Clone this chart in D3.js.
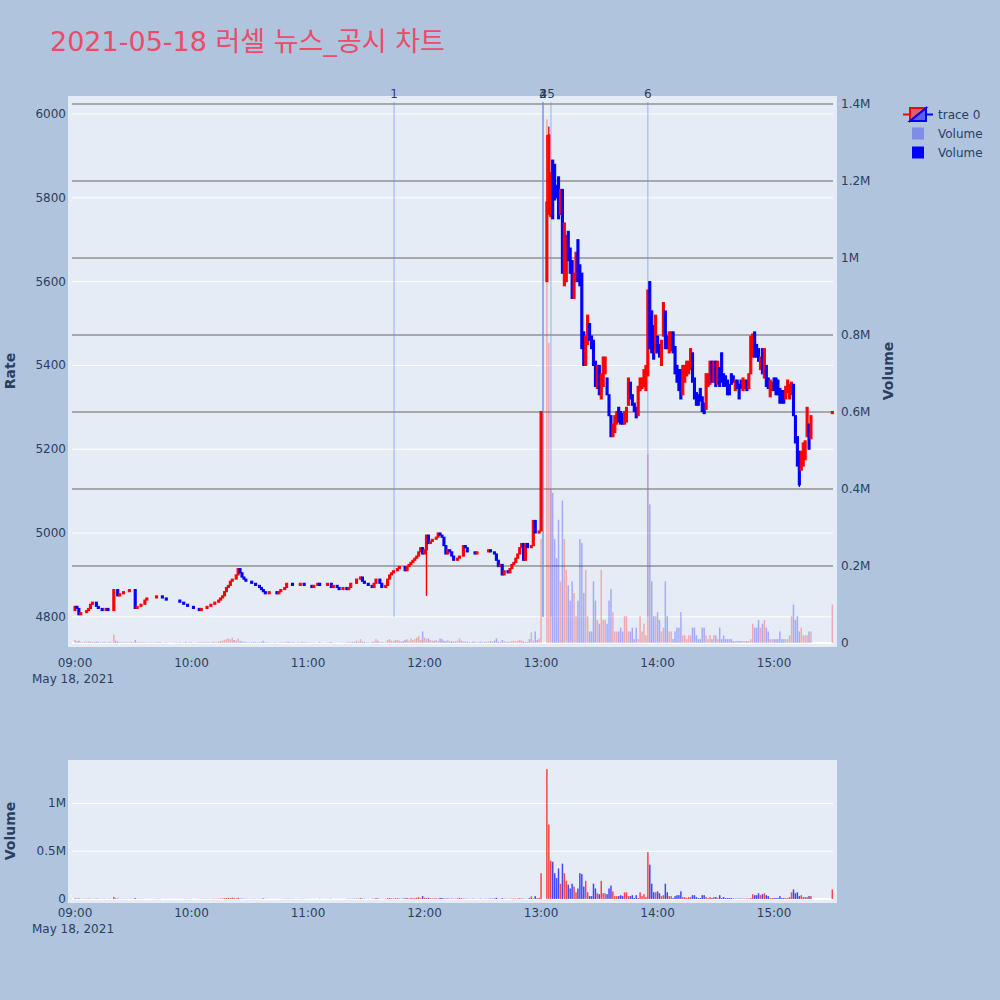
<!DOCTYPE html>
<html>
<head>
<meta charset="utf-8">
<script src="https://cdn.jsdelivr.net/npm/d3@7"></script>
<style>
  body { margin: 0; background: #b0c4de; }
  svg text { font-family: "DejaVu Sans", "Noto Sans CJK KR", sans-serif; fill: #2a3f5f; }
</style>
</head>
<body>
<svg id="chart" width="1000" height="1000"></svg>
<script>
// ============ 데이터 ============
// 09:00 ~ 13:00 분봉 종가 (분 0 = 09:00)
const amStartOpen = 4815;
const amClose = [
  4825, 4820, 4805, 4810, 4810, 4810, 4815, 4820, 4830, 4835,
  4835, 4825, 4820, 4820, 4815, 4815, 4820, 4815, 4815, 4815,
  4865, 4865, 4850, 4855, 4855, 4860, 4860, 4860, 4865, 4865,
  4865, 4820, 4825, 4825, 4830, 4830, 4840, 4845, 4845, 4845,
  4845, 4845, 4850, 4850, 4850, 4845, 4845, 4840, 4840, 4840,
  4840, 4840, 4840, 4840, 4835, 4835, 4830, 4830, 4825, 4825,
  4825, 4820, 4820, 4820, 4815, 4820, 4820, 4820, 4825, 4825,
  4830, 4830, 4835, 4835, 4840, 4845, 4850, 4860, 4870, 4875,
  4885, 4890, 4890, 4900, 4915, 4905, 4895, 4890, 4885, 4885,
  4885, 4880, 4880, 4875, 4875, 4870, 4865, 4860, 4855, 4855,
  4860, 4860, 4860, 4860, 4855, 4860, 4865, 4865, 4870, 4880,
  4880, 4880, 4875, 4875, 4875, 4875, 4880, 4880, 4875, 4875,
  4875, 4875, 4870, 4875, 4875, 4880, 4875, 4875, 4875, 4875,
  4880, 4880, 4870, 4875, 4875, 4870, 4865, 4865, 4870, 4870,
  4865, 4870, 4880, 4880, 4880, 4890, 4890, 4895, 4885, 4880,
  4880, 4875, 4875, 4870, 4880, 4890, 4890, 4880, 4870, 4870,
  4875, 4890, 4900, 4905, 4910, 4910, 4915, 4920, 4920, 4920,
  4910, 4920, 4925, 4930, 4935, 4940, 4945, 4955, 4965, 4950,
  4960, 4995, 4975, 4980, 4985, 4985, 4990, 5000, 4995, 4990,
  4970, 4950, 4960, 4955, 4945, 4935, 4935, 4940, 4945, 4945,
  4970, 4965, 4955, 4955, 4955, 4955, 4950, 4955, 4955, 4955,
  4955, 4955, 4955, 4960, 4955, 4955, 4950, 4935, 4920, 4925,
  4900, 4910, 4910, 4905, 4915, 4925, 4930, 4940, 4950, 4965,
  4975, 4935, 4975, 4965, 4965, 4970, 5030, 5000, 5000, 5005,
  5290
];
// 오전 거래량 (천 주)
const amVolumeK = [
  8, 4, 6, 3, 2, 3, 4, 5, 4, 3,
  3, 4, 3, 2, 2, 3, 2, 2, 3, 2,
  22, 6, 4, 3, 2, 3, 2, 2, 3, 3,
  2, 8, 3, 2, 3, 2, 2, 2, 1, 2,
  1, 2, 2, 3, 2, 1, 1, 2, 1, 1,
  1, 1, 2, 1, 2, 1, 1, 3, 1, 2,
  2, 1, 1, 2, 2, 3, 2, 2, 3, 2,
  2, 3, 3, 2, 4, 5, 6, 8, 10, 12,
  9, 14, 8, 6, 12, 5, 4, 3, 3, 2,
  2, 2, 3, 2, 2, 2, 3, 6, 2, 2,
  2, 1, 1, 2, 1, 2, 2, 2, 2, 4,
  3, 2, 2, 2, 1, 2, 2, 3, 2, 2,
  1, 2, 1, 2, 1, 1, 3, 1, 1, 1,
  2, 2, 3, 1, 1, 1, 1, 1, 2, 1,
  2, 4, 3, 3, 3, 6, 3, 10, 4, 3,
  2, 2, 1, 3, 4, 10, 6, 2, 3, 2,
  3, 8, 10, 6, 5, 7, 8, 6, 4, 5,
  8, 10, 6, 12, 8, 10, 14, 18, 8, 30,
  14, 10, 12, 8, 6, 6, 8, 5, 12, 10,
  6, 5, 8, 4, 5, 3, 4, 6, 12, 6,
  4, 4, 3, 3, 2, 4, 3, 2, 3, 4,
  2, 3, 3, 4, 5, 3, 6, 12, 4, 3,
  8, 5, 3, 3, 4, 5, 6, 4, 6, 8,
  6, 4, 3, 3, 10, 28, 6, 30, 8, 12,
  270
];

// VI 이후 13:03 ~ 15:19 분봉 (시가 / 종가)
const pmStart = 243;
const pmOpen = [
  5600, 5760, 5755, 5890, 5880, 5830, 5850, 5760, 5820, 5590,
  5600, 5720, 5680, 5650, 5560, 5600, 5700, 5640, 5620, 5480,
  5400, 5450, 5500, 5470, 5460, 5410, 5345, 5400, 5320, 5350,
  5380, 5370, 5330, 5280, 5230, 5240, 5260, 5300, 5290, 5285,
  5260, 5265, 5305, 5360, 5330, 5310, 5300, 5280, 5340, 5345,
  5350, 5340, 5375, 5600, 5530, 5495, 5430, 5470, 5450, 5400,
  5470, 5530, 5470, 5430, 5435, 5480, 5445, 5400, 5390, 5390,
  5330, 5360, 5375, 5380, 5390, 5430, 5370, 5335, 5330, 5345,
  5325, 5310, 5295, 5350, 5355, 5410, 5360, 5410, 5355, 5395,
  5430, 5380, 5375, 5365, 5355, 5380, 5375, 5340, 5365, 5355,
  5365, 5340, 5345, 5365, 5345, 5380, 5420, 5480, 5450, 5440,
  5390, 5440, 5370, 5400, 5370, 5325, 5340, 5370, 5370, 5365,
  5345, 5340, 5340, 5320, 5335, 5320, 5330, 5355, 5280, 5230,
  5195, 5150, 5160, 5175, 5230, 5260, 5225
];
const pmClose = [
  5790, 5950, 5860, 5750, 5795, 5800, 5750, 5820, 5620, 5740,
  5710, 5650, 5620, 5560, 5620, 5670, 5600, 5590, 5440, 5400,
  5470, 5520, 5460, 5440, 5400, 5350, 5400, 5330, 5380, 5420,
  5420, 5330, 5280, 5230, 5260, 5280, 5290, 5265, 5260, 5260,
  5290, 5300, 5370, 5320, 5305, 5290, 5275, 5350, 5370, 5370,
  5390, 5400, 5580, 5440, 5430, 5415, 5520, 5430, 5420, 5460,
  5550, 5440, 5440, 5480, 5480, 5430, 5380, 5360, 5340, 5320,
  5400, 5400, 5410, 5410, 5440, 5360, 5320, 5305, 5305, 5315,
  5290, 5285, 5380, 5380, 5410, 5360, 5410, 5350, 5410, 5350,
  5360, 5350, 5350, 5330, 5330, 5355, 5360, 5365, 5345, 5320,
  5345, 5370, 5365, 5340, 5380, 5470, 5475, 5420, 5420, 5410,
  5420, 5380, 5440, 5350, 5345, 5365, 5360, 5340, 5330, 5330,
  5310, 5310, 5310, 5350, 5365, 5355, 5360, 5280, 5215, 5160,
  5115, 5195, 5215, 5220, 5300, 5200, 5280
];
// 오후 거래량 (백만 주)
const pmVolumeM = [
  1.36, 0.78, 0.40, 0.39, 0.27, 0.22, 0.32, 0.16, 0.37, 0.27,
  0.19, 0.15, 0.11, 0.16, 0.13, 0.07, 0.11, 0.27, 0.26, 0.13,
  0.19, 0.07, 0.03, 0.03, 0.16, 0.11, 0.06, 0.05, 0.19, 0.06,
  0.06, 0.05, 0.11, 0.14, 0.08, 0.03, 0.03, 0.03, 0.04, 0.03,
  0.07, 0.07, 0.03, 0.03, 0.04, 0.01, 0.04, 0.01, 0.07, 0.03,
  0.05, 0.02, 0.49, 0.36, 0.16, 0.07, 0.07, 0.08, 0.06, 0.03,
  0.04, 0.16, 0.07, 0.03, 0.03, 0.01, 0.03, 0.04, 0.04, 0.08,
  0.02, 0.02, 0.01, 0.02, 0.02, 0.04, 0.04, 0.02, 0.01, 0.01,
  0.04, 0.04, 0.02, 0.01, 0.02, 0.01, 0.02, 0.02, 0.01, 0.04,
  0.01, 0.02, 0.01, 0.01, 0.01, 0.01, 0.005, 0.005, 0.005, 0.005,
  0.005, 0.005, 0.005, 0.005, 0.005, 0.01, 0.05, 0.04, 0.04, 0.06,
  0.04, 0.05, 0.06, 0.04, 0.03, 0.01, 0.01, 0.01, 0.01, 0.01,
  0.03, 0.01, 0.01, 0.01, 0.01, 0.02, 0.07, 0.10, 0.06, 0.07,
  0.03, 0.04, 0.02, 0.02, 0.02, 0.03, 0.03
];
// 15:30 동시호가
const closeMinute = [390];
const closeOpen = [5285];
const closeClose = [5290];
const closeVolumeM = [0.10];

// 꼬리 (분, 고가, 저가)
const wickMinute = [181, 243, 244, 373];
const wickHigh = [null, 5950, 5970, null];
const wickLow = [4850, null, null, 5110];

// 뉴스/공시 시점
const newsLabel = ['1', '2', '3', '4', '5', '6'];
const newsMinute = [164.3, 241, 241, 241, 245.1, 295];

// 축 눈금
const priceTicks = [4800, 5000, 5200, 5400, 5600, 5800, 6000];
const volMainTicks = [0, 0.2, 0.4, 0.6, 0.8, 1, 1.2, 1.4];
const volMainLabels = ['0', '0.2M', '0.4M', '0.6M', '0.8M', '1M', '1.2M', '1.4M'];
const volSubTicks = [0, 0.5, 1];
const volSubLabels = ['0', '0.5M', '1M'];
const hourTicks = [9, 10, 11, 12, 13, 14, 15];

// ============ 캔들 구성 ============
const day = new Date(2021, 4, 18, 9, 0, 0);
const at = m => new Date(day.getTime() + m * 60000);

const candles = [];
amClose.forEach((c, i) => {
  const o = i === 0 ? amStartOpen : amClose[i - 1];
  candles.push({ m: i, o, c, v: amVolumeK[i] / 1000 });
});
pmClose.forEach((c, i) => {
  candles.push({ m: pmStart + i, o: pmOpen[i], c, v: pmVolumeM[i] });
});
closeMinute.forEach((m, i) => {
  candles.push({ m, o: closeOpen[i], c: closeClose[i], v: closeVolumeM[i] });
});
candles.forEach(d => {
  d.h = Math.max(d.o, d.c);
  d.l = Math.min(d.o, d.c);
  const w = wickMinute.indexOf(d.m);
  if (w >= 0) {
    if (wickHigh[w] != null) d.h = wickHigh[w];
    if (wickLow[w] != null) d.l = wickLow[w];
  }
  d.up = d.c > d.o;
});

const RED = '#ff0000';
const BLUE = '#0000ff';

// ============ 스케일 ============
const left = 68, right = 837;
const x = d3.scaleTime().domain([at(-3.6), at(392.4)]).range([left, right]);
const yPrice = d3.scaleLinear().domain([4728, 6043]).range([647, 96]);
const yVol = d3.scaleLinear().domain([-0.0104, 1.4208]).range([647, 96]);
const ySub = d3.scaleLinear().domain([-0.042, 1.455]).range([903, 760]);

const svg = d3.select('#chart');

// 제목
svg.append('text')
  .attr('x', 50).attr('y', 51)
  .style('font-size', '27px')
  .style('fill', '#ec4b69')
  .text('2021-05-18 러셀 뉴스_공시 차트');

// ============ 메인 차트 ============
const main = svg.append('g');
main.append('rect')
  .attr('x', left).attr('y', 96)
  .attr('width', right - left).attr('height', 551)
  .attr('fill', '#e5ecf6');

// 가격 격자
main.append('g').selectAll('line')
  .data(priceTicks)
  .join('line')
  .attr('x1', 72).attr('x2', 833)
  .attr('y1', d => yPrice(d)).attr('y2', d => yPrice(d))
  .attr('stroke', '#ffffff').attr('stroke-width', 1);

// 거래량 격자 (회색)
main.append('g').selectAll('line')
  .data(volMainTicks.filter(d => d > 0))
  .join('line')
  .attr('x1', 72).attr('x2', 833)
  .attr('y1', d => yVol(d)).attr('y2', d => yVol(d))
  .attr('stroke', '#929292').attr('stroke-width', 1.3);

main.append('line')
  .attr('x1', 72).attr('x2', 833)
  .attr('y1', yVol(0)).attr('y2', yVol(0))
  .attr('stroke', '#ffffff').attr('stroke-width', 2);

// 거래량 막대 (반투명)
main.append('g').selectAll('rect')
  .data(candles)
  .join('rect')
  .attr('x', d => x(at(d.m)) - 0.75)
  .attr('width', 1.5)
  .attr('y', d => yVol(d.v))
  .attr('height', d => Math.max(0, yVol(0) - yVol(d.v)))
  .attr('fill', d => d.up ? RED : BLUE)
  .attr('opacity', 0.28);

// 뉴스 세로선
main.append('g').selectAll('line')
  .data(newsMinute)
  .join('line')
  .attr('x1', d => x(at(d))).attr('x2', d => x(at(d)))
  .attr('y1', yPrice(4800)).attr('y2', 102)
  .attr('stroke', '#6f8fe8').attr('stroke-opacity', 0.55).attr('stroke-width', 1.2);

main.append('g').selectAll('text')
  .data(newsMinute)
  .join('text')
  .attr('x', d => x(at(d)))
  .attr('y', 98)
  .attr('text-anchor', 'middle')
  .style('font-size', '12px')
  .text((d, i) => newsLabel[i]);

// 캔들
const cg = main.append('g');
cg.selectAll('line')
  .data(candles.filter(d => d.h > Math.max(d.o, d.c) || d.l < Math.min(d.o, d.c)))
  .join('line')
  .attr('x1', d => x(at(d.m))).attr('x2', d => x(at(d.m)))
  .attr('y1', d => yPrice(d.h)).attr('y2', d => yPrice(d.l))
  .attr('stroke', d => d.up ? RED : BLUE).attr('stroke-width', 1.4);

cg.selectAll('rect')
  .data(candles)
  .join('rect')
  .attr('x', d => x(at(d.m)) - 1)
  .attr('width', 2)
  .attr('y', d => yPrice(Math.max(d.o, d.c)))
  .attr('height', d => Math.abs(yPrice(d.o) - yPrice(d.c)))
  .attr('fill', d => d.up ? RED : BLUE)
  .attr('stroke', d => d.up ? RED : BLUE)
  .attr('stroke-width', 1.1);

// 축 라벨
main.append('g').selectAll('text')
  .data(priceTicks)
  .join('text')
  .attr('x', 66).attr('y', d => yPrice(d) + 4)
  .attr('text-anchor', 'end')
  .style('font-size', '12px')
  .text(d => d);

main.append('g').selectAll('text')
  .data(volMainTicks)
  .join('text')
  .attr('x', 841).attr('y', d => yVol(d) + 4)
  .style('font-size', '12px')
  .text((d, i) => volMainLabels[i]);

function timeLabels(g, yTop) {
  g.append('g').selectAll('text')
    .data(hourTicks)
    .join('text')
    .attr('x', d => x(at((d - 9) * 60)))
    .attr('y', yTop)
    .attr('text-anchor', 'middle')
    .style('font-size', '12px')
    .text(d => d3.timeFormat('%H:%M')(at((d - 9) * 60)));
  g.append('text')
    .attr('x', x(at(0)) - 2)
    .attr('y', yTop + 16)
    .attr('text-anchor', 'middle')
    .style('font-size', '12px')
    .text(d3.timeFormat('%b %-d, %Y')(day));
}
timeLabels(main, 667);

main.append('text')
  .attr('transform', 'translate(15,371) rotate(-90)')
  .attr('text-anchor', 'middle')
  .style('font-size', '14px').style('font-weight', 'bold')
  .text('Rate');

main.append('text')
  .attr('transform', 'translate(893,371) rotate(-90)')
  .attr('text-anchor', 'middle')
  .style('font-size', '14px').style('font-weight', 'bold')
  .text('Volume');

// ============ 하단 거래량 차트 ============
const sub = svg.append('g');
sub.append('rect')
  .attr('x', left).attr('y', 760)
  .attr('width', right - left).attr('height', 143)
  .attr('fill', '#e5ecf6');

sub.append('g').selectAll('line')
  .data(volSubTicks)
  .join('line')
  .attr('x1', 72).attr('x2', 833)
  .attr('y1', d => ySub(d)).attr('y2', d => ySub(d))
  .attr('stroke', '#ffffff').attr('stroke-width', d => d === 0 ? 2 : 1);

sub.append('g').selectAll('rect')
  .data(candles)
  .join('rect')
  .attr('x', d => x(at(d.m)) - 0.75)
  .attr('width', 1.5)
  .attr('y', d => ySub(d.v))
  .attr('height', d => Math.max(0, ySub(0) - ySub(d.v)))
  .attr('fill', d => d.up ? RED : BLUE)
  .attr('opacity', 0.7);

sub.append('g').selectAll('text')
  .data(volSubTicks)
  .join('text')
  .attr('x', 66).attr('y', d => ySub(d) + 4)
  .attr('text-anchor', 'end')
  .style('font-size', '12px')
  .text((d, i) => volSubLabels[i]);

timeLabels(sub, 917);

sub.append('text')
  .attr('transform', 'translate(15,831) rotate(-90)')
  .attr('text-anchor', 'middle')
  .style('font-size', '14px').style('font-weight', 'bold')
  .text('Volume');

// ============ 범례 ============
const lg = svg.append('g');
lg.append('line').attr('x1', 903).attr('x2', 910).attr('y1', 114.5).attr('y2', 114.5)
  .attr('stroke', RED).attr('stroke-width', 2);
lg.append('line').attr('x1', 926).attr('x2', 933).attr('y1', 114.5).attr('y2', 114.5)
  .attr('stroke', BLUE).attr('stroke-width', 2);
lg.append('path').attr('d', 'M910,108 L926,108 L910,121 Z')
  .attr('fill', 'rgba(255,0,0,0.5)').attr('stroke', RED).attr('stroke-width', 2);
lg.append('path').attr('d', 'M926,108 L926,121 L910,121 Z')
  .attr('fill', 'rgba(0,0,255,0.5)').attr('stroke', BLUE).attr('stroke-width', 2);
lg.append('text').attr('x', 938).attr('y', 118.5).style('font-size', '12px').text('trace 0');

lg.append('rect').attr('x', 912).attr('y', 127.5).attr('width', 12).attr('height', 12)
  .attr('fill', '#7f8ce8');
lg.append('text').attr('x', 938).attr('y', 137.5).style('font-size', '12px').text('Volume');
lg.append('rect').attr('x', 912).attr('y', 146.5).attr('width', 12).attr('height', 12)
  .attr('fill', BLUE);
lg.append('text').attr('x', 938).attr('y', 156.5).style('font-size', '12px').text('Volume');
</script>
</body>
</html>
